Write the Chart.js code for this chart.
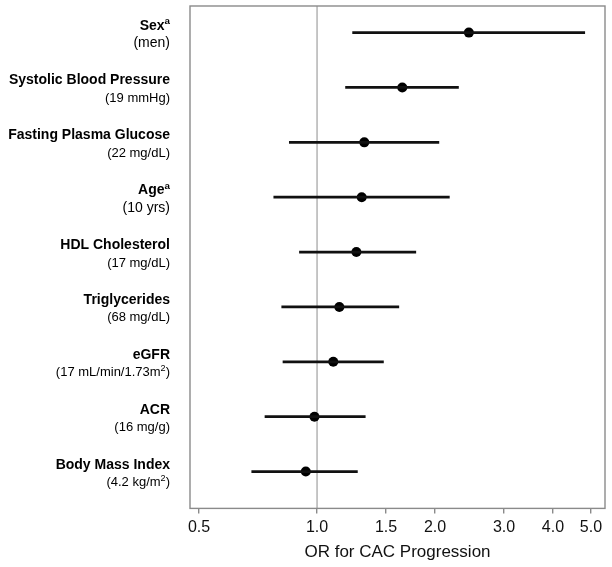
<!DOCTYPE html>
<html>
<head>
    <meta charset="utf-8" />
    <title>OR for CAC Progression</title>
    <script src="https://cdn.jsdelivr.net/npm/chart.js@4/dist/chart.umd.min.js"></script>
    <style>
        html, body { margin: 0; padding: 0; background: #fff; }
        #wrap { width: 612px; height: 567px; }
    </style>
</head>
<body>
    <div id="wrap"><canvas id="chtForest"></canvas></div>

    <script>
        // rotulos das linhas (nome em negrito, unidade embaixo)
        const names = ['Sex', 'Systolic Blood Pressure', 'Fasting Plasma Glucose', 'Age', 'HDL Cholesterol',
            'Triglycerides', 'eGFR', 'ACR', 'Body Mass Index'];
        const nameSup = ['a', '', '', 'a', '', '', '', '', ''];
        const units = ['(men)', '(19 mmHg)', '(22 mg/dL)', '(10 yrs)', '(17 mg/dL)',
            '(68 mg/dL)', '(17 mL/min/1.73m^2)', '(16 mg/g)', '(4.2 kg/m^2)'];

        // OR e intervalo de confianca
        const orValues = [2.44, 1.65, 1.32, 1.30, 1.26, 1.14, 1.10, 0.985, 0.936];
        const ciLow = [1.23, 1.18, 0.848, 0.774, 0.900, 0.811, 0.817, 0.735, 0.680];
        const ciHigh = [4.83, 2.30, 2.05, 2.18, 1.79, 1.62, 1.48, 1.33, 1.27];

        const xTicks = [0.5, 1.0, 1.5, 2.0, 3.0, 4.0, 5.0];
        const refValue = 1.0;
        const xTitle = 'OR for CAC Progression';

        const FONT = "'Liberation Sans', Arial, Helvetica, sans-serif";
        Chart.defaults.font.family = FONT;
        Chart.defaults.color = '#000';

        // uma linha por intervalo
        const datasets = names.map((n, i) => ({
            type: 'line',
            data: [{ x: ciLow[i], y: i }, { x: ciHigh[i], y: i }],
            borderColor: '#111',
            borderWidth: 2.8,
            pointRadius: 0,
            fill: false
        }));
        datasets.push({
            type: 'scatter',
            data: orValues.map((v, i) => ({ x: v, y: i })),
            pointRadius: 5,
            pointBackgroundColor: '#000',
            pointBorderColor: '#000',
            pointBorderWidth: 0
        });

        const framePlugin = {
            id: 'frame',
            beforeDatasetsDraw(chart) {
                const { ctx, chartArea: a, scales } = chart;
                const xr = scales.x.getPixelForValue(refValue);
                ctx.save();
                ctx.strokeStyle = '#b3b3b3';
                ctx.lineWidth = 1.5;
                ctx.beginPath();
                ctx.moveTo(xr, a.top);
                ctx.lineTo(xr, a.bottom);
                ctx.stroke();
                ctx.strokeStyle = '#8a8a8a';
                ctx.lineWidth = 1.4;
                ctx.strokeRect(a.left, a.top, a.right - a.left, a.bottom - a.top);
                ctx.restore();
            }
        };

        function drawRich(ctx, text, right, y, size, bold) {
            const parts = text.split('^');
            const segs = [];
            parts.forEach((p, k) => {
                if (k === 0) { segs.push({ t: p, sup: false }); return; }
                segs.push({ t: p.charAt(0), sup: true });
                if (p.length > 1) segs.push({ t: p.slice(1), sup: false });
            });
            const w = b => (bold ? 'bold ' : '') + b + 'px ' + FONT;
            let total = 0;
            segs.forEach(s => {
                ctx.font = w(s.sup ? size * 0.7 : size);
                s.w = ctx.measureText(s.t).width;
                total += s.w;
            });
            let x = right - total;
            segs.forEach(s => {
                ctx.font = w(s.sup ? size * 0.7 : size);
                ctx.fillText(s.t, x, s.sup ? y - size * 0.38 : y);
                x += s.w;
            });
        }

        const labelPlugin = {
            id: 'rowLabels',
            afterDraw(chart) {
                const { ctx, scales } = chart;
                const right = 170;
                ctx.save();
                ctx.fillStyle = '#000';
                ctx.textBaseline = 'alphabetic';
                ctx.textAlign = 'left';
                names.forEach((n, i) => {
                    const y = scales.y.getPixelForValue(i);
                    const nm = nameSup[i] ? n + '^' + nameSup[i] : n;
                    drawRich(ctx, nm, right, y - 3, 14, true);
                    const big = (i === 0 || i === 3);
                    drawRich(ctx, units[i], right, y + 14.5, big ? 14 : 13, false);
                });
                ctx.restore();
            }
        };

        new Chart(document.getElementById('chtForest'), {
            type: 'scatter',
            data: { datasets: datasets },
            options: {
                responsive: true,
                maintainAspectRatio: false,
                animation: false,
                layout: { padding: { left: 190, right: 7, top: 6, bottom: 4 } },
                plugins: {
                    legend: { display: false },
                    tooltip: { enabled: false }
                },
                scales: {
                    x: {
                        type: 'logarithmic',
                        min: 0.474,
                        max: 5.43,
                        afterBuildTicks: axis => { axis.ticks = xTicks.map(v => ({ value: v })); },
                        grid: {
                            drawOnChartArea: false,
                            drawTicks: true,
                            tickLength: 5,
                            color: '#8a8a8a',
                            lineWidth: 1.4
                        },
                        border: { display: false },
                        ticks: {
                            autoSkip: false,
                            maxRotation: 0,
                            padding: 5,
                            color: '#111',
                            font: { size: 16 },
                            callback: v => Number(v).toFixed(1)
                        },
                        title: {
                            display: true,
                            text: xTitle,
                            color: '#111',
                            font: { size: 17 },
                            padding: { top: 0, bottom: 0 }
                        }
                    },
                    y: {
                        type: 'linear',
                        display: false,
                        reverse: true,
                        min: -0.485,
                        max: 8.672
                    }
                }
            },
            plugins: [framePlugin, labelPlugin]
        });
    </script>
</body>
</html>
